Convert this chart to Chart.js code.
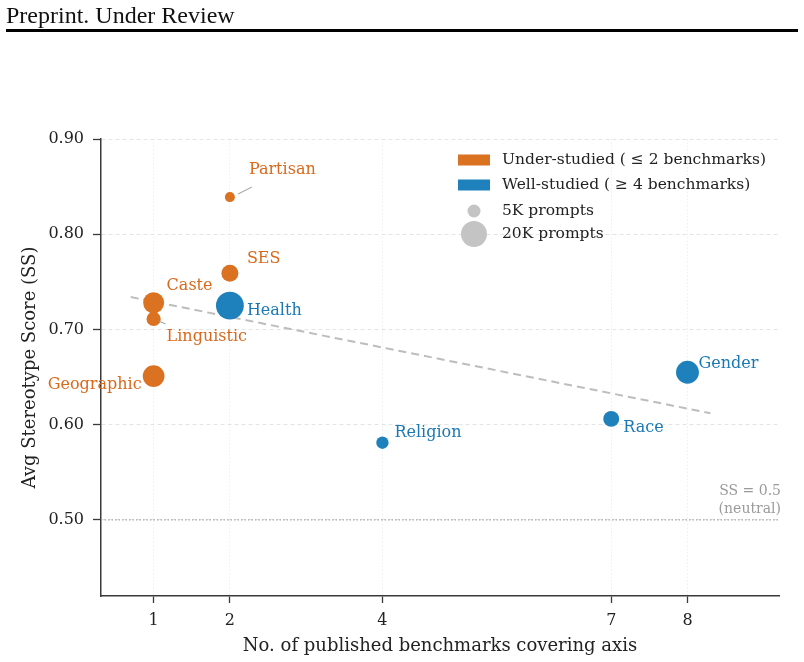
<!DOCTYPE html>
<html>
<head>
<meta charset="utf-8">
<script src="https://cdn.jsdelivr.net/npm/chart.js@4"></script>
<style>
  html, body { margin: 0; padding: 0; background: #fff; }
  #wrap { position: relative; width: 804px; height: 662px; }
  #header {
    position: absolute; left: 6px; top: 0; width: 792px; height: 29px;
    border-bottom: 3px solid #000;
    font-family: "Liberation Serif", serif; font-size: 24px; line-height: 30px; color: #111;
  }
  canvas { position: absolute; left: 0; top: 0; }
</style>
</head>
<body>
<div id="wrap">
  <canvas id="chart" width="804" height="662"></canvas>
  <div id="header">Preprint. Under Review</div>
</div>
<script>
// data
const axisNames = ['Partisan', 'SES', 'Caste', 'Linguistic', 'Geographic', 'Health', 'Religion', 'Race', 'Gender'];
const benchmarks = [2, 2, 1, 1, 1, 2, 4, 7, 8];
const ssScores = [0.839, 0.759, 0.728, 0.711, 0.651, 0.725, 0.581, 0.606, 0.655];
const promptsK = [3, 8.5, 13, 6, 14, 23, 4.5, 7.5, 15.5];
const groups = ['under', 'under', 'under', 'under', 'under', 'well', 'well', 'well', 'well'];
const trendX = [0.7, 8.3];
const trendY = [0.734, 0.612];
const xTicks = [1, 2, 4, 7, 8];
const yTicks = [0.5, 0.6, 0.7, 0.8, 0.9];
const neutralSS = 0.5;
const legendPromptsK = [5, 20];

const THEME = {
    under: '#DB7222',
    well: '#1F81BB',
    underText: '#D9691C',
    wellText: '#1A78B5',
    trend: '#bdbdbd',
    grid: '#e4e4e4',
    spine: '#3a3a3a',
    text: '#222222',
    muted: '#9a9a9a'
};
const FONT = 'DejaVu Serif';

// marker radius grows with sqrt of prompt count
const radiusFor = (k) => 6.5 * Math.sqrt(k / 5);

// label placement (px from the marker), and leader lines
const labelOffsets = {
    Partisan:   { dx: 19, dy: -27, align: 'left', leader: [8, -3, 22, -10] },
    SES:        { dx: 17, dy: -14, align: 'left' },
    Caste:      { dx: 13, dy: -17, align: 'left' },
    Health:     { dx: 17, dy: 5, align: 'left' },
    Linguistic: { dx: 13, dy: 18, align: 'left', leader: [5, 2, 12, 5] },
    Geographic: { dx: -12, dy: 9, align: 'right' },
    Religion:   { dx: 12, dy: -10, align: 'left' },
    Race:       { dx: 12, dy: 9, align: 'left' },
    Gender:     { dx: 11, dy: -8, align: 'left' }
};

const points = axisNames.map((name, i) => ({ x: benchmarks[i], y: ssScores[i] }));
const trendPoints = trendX.map((x, i) => ({ x, y: trendY[i] }));

const extrasPlugin = {
    id: 'extras',
    beforeDatasetsDraw(chart) {
        const { ctx, chartArea, scales } = chart;
        const y = scales.y.getPixelForValue(neutralSS);
        ctx.save();
        ctx.strokeStyle = '#a8a8a8';
        ctx.lineWidth = 1.2;
        ctx.setLineDash([1.5, 2]);
        ctx.beginPath();
        ctx.moveTo(chartArea.left, y);
        ctx.lineTo(chartArea.right, y);
        ctx.stroke();
        ctx.setLineDash([]);
        ctx.fillStyle = THEME.muted;
        ctx.font = `14px "${FONT}"`;
        ctx.textAlign = 'right';
        ctx.textBaseline = 'middle';
        ctx.fillText('SS = 0.5', chartArea.right + 2, y - 28);
        ctx.fillText('(neutral)', chartArea.right + 2, y - 10);
        ctx.restore();
    },
    afterDatasetsDraw(chart) {
        const { ctx } = chart;
        const meta = chart.getDatasetMeta(1);
        ctx.save();
        ctx.font = `16px "${FONT}"`;
        ctx.textBaseline = 'middle';
        meta.data.forEach((el, i) => {
            const name = axisNames[i];
            const o = labelOffsets[name];
            if (o.leader) {
                ctx.strokeStyle = '#999';
                ctx.lineWidth = 1;
                ctx.beginPath();
                ctx.moveTo(el.x + o.leader[0], el.y + o.leader[1]);
                ctx.lineTo(el.x + o.leader[2], el.y + o.leader[3]);
                ctx.stroke();
            }
            ctx.fillStyle = groups[i] === 'under' ? THEME.underText : THEME.wellText;
            ctx.textAlign = o.align;
            ctx.fillText(name, el.x + o.dx, el.y + o.dy);
        });

        // legend
        const lx = 458, ly = 160;
        ctx.font = `15.5px "${FONT}"`;
        ctx.textAlign = 'left';
        ctx.fillStyle = THEME.under;
        ctx.fillRect(lx, ly - 5.5, 32, 11);
        ctx.fillStyle = THEME.well;
        ctx.fillRect(lx, ly + 19.5, 32, 11);
        ctx.fillStyle = '#c4c4c4';
        [211, 234].forEach((cy, i) => {
            ctx.beginPath();
            ctx.arc(lx + 16, cy, radiusFor(legendPromptsK[i]), 0, Math.PI * 2);
            ctx.fill();
        });
        ctx.fillStyle = THEME.text;
        ctx.fillText('Under-studied ( \u2264 2 benchmarks)', 502, ly);
        ctx.fillText('Well-studied ( \u2265 4 benchmarks)', 502, ly + 25);
        ctx.fillText('5K prompts', 502, 211);
        ctx.fillText('20K prompts', 502, 234);
        ctx.restore();
    }
};

new Chart(document.getElementById('chart').getContext('2d'), {
    type: 'scatter',
    data: {
        datasets: [
            {
                label: 'trend',
                type: 'line',
                data: trendPoints,
                borderColor: THEME.trend,
                borderWidth: 2,
                borderDash: [8, 5],
                pointRadius: 0,
                fill: false,
                order: 2
            },
            {
                label: 'axes',
                data: points,
                backgroundColor: points.map((p, i) => groups[i] === 'under' ? THEME.under : THEME.well),
                borderWidth: 0,
                pointRadius: promptsK.map(radiusFor),
                pointHoverRadius: promptsK.map(radiusFor),
                order: 1
            }
        ]
    },
    options: {
        responsive: false,
        animation: false,
        layout: { padding: { top: 139, right: 25, left: 0, bottom: 0 } },
        plugins: { legend: { display: false }, tooltip: { enabled: false } },
        scales: {
            x: {
                type: 'linear',
                min: 0.31,
                max: 9.2,
                afterBuildTicks: (s) => { s.ticks = xTicks.map(v => ({ value: v })); },
                afterFit: (s) => { s.height = 66; },
                ticks: { color: THEME.text, font: { family: FONT, size: 16 }, padding: 8 },
                grid: { color: '#efefef', tickColor: THEME.spine, tickLength: 7, tickWidth: 1.3, tickBorderDash: [] },
                border: { color: THEME.spine, width: 1.5, dash: [1.5, 2] },
                title: {
                    display: true,
                    text: 'No. of published benchmarks covering axis',
                    color: THEME.text,
                    font: { family: FONT, size: 18 },
                    padding: { top: 0, bottom: 5 }
                }
            },
            y: {
                type: 'linear',
                min: 0.42,
                max: 0.90,
                afterBuildTicks: (s) => { s.ticks = yTicks.map(v => ({ value: v })); },
                afterFit: (s) => { s.width = 101; },
                ticks: {
                    color: THEME.text,
                    font: { family: FONT, size: 16 },
                    padding: 9,
                    callback: (v) => Number(v).toFixed(2)
                },
                grid: { color: THEME.grid, tickColor: THEME.spine, tickLength: 8, tickWidth: 1.3, tickBorderDash: [] },
                border: { color: THEME.spine, width: 1.5, dash: [4, 3] },
                title: {
                    display: true,
                    text: 'Avg Stereotype Score (SS)',
                    color: THEME.text,
                    font: { family: FONT, size: 18 },
                    padding: { top: 20, bottom: 0 }
                }
            }
        }
    },
    plugins: [extrasPlugin]
});
</script>
</body>
</html>
